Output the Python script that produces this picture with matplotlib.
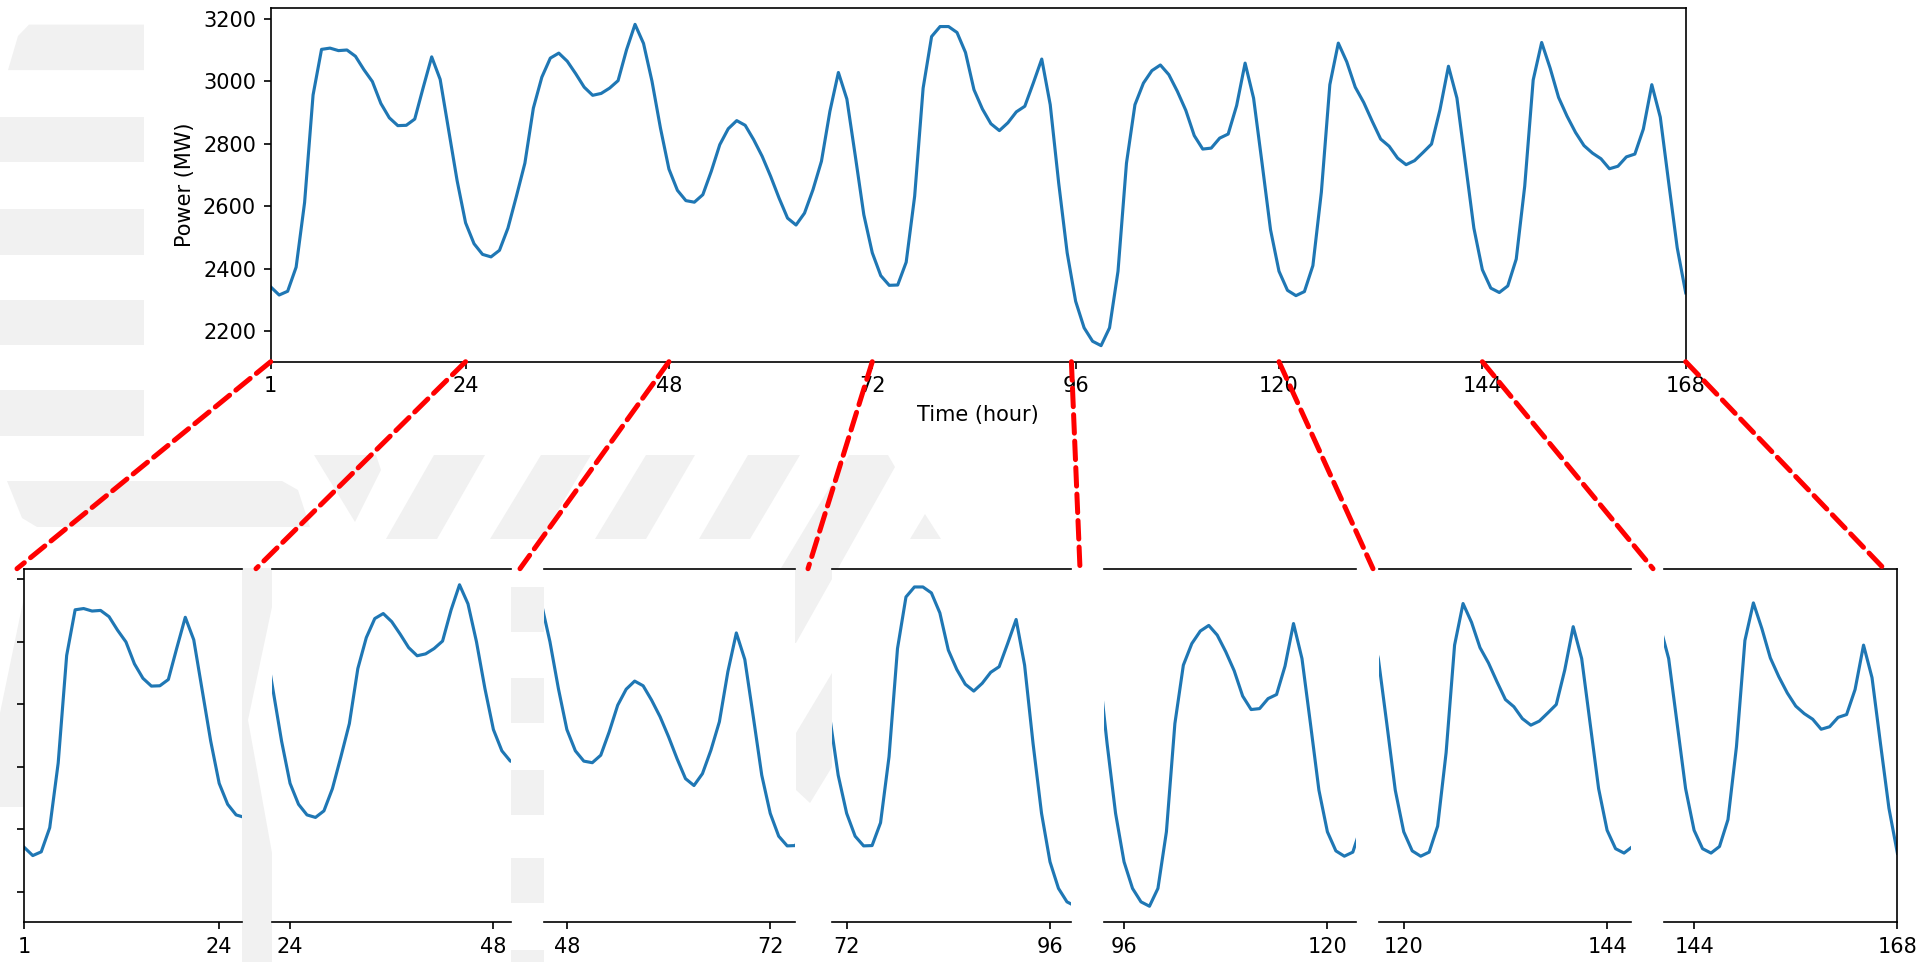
import matplotlib
matplotlib.use("Agg")
import matplotlib.pyplot as plt
from matplotlib.patches import Polygon, ConnectionPatch

# ---------------- data ----------------
hours = list(range(1, 169))
power = [
    2342, 2316, 2328, 2405, 2612, 2956, 3102, 3106, 3098, 3100,
    3080, 3037, 2999, 2929, 2883, 2858, 2859, 2879, 2980, 3078,
    3006, 2845, 2682, 2547, 2480, 2446, 2438, 2459, 2530, 2632,
    2738, 2914, 3013, 3074, 3090, 3064, 3024, 2981, 2955, 2961,
    2978, 3002, 3101, 3182, 3121, 3000, 2850, 2719, 2651, 2618,
    2613, 2637, 2712, 2797, 2848, 2874, 2859, 2813, 2760, 2696,
    2626, 2562, 2540, 2578, 2653, 2744, 2904, 3028, 2943, 2760,
    2573, 2451, 2378, 2347, 2348, 2421, 2632, 2978, 3143, 3175,
    3175, 3156, 3092, 2973, 2911, 2864, 2842, 2867, 2902, 2920,
    2994, 3071, 2925, 2674, 2451, 2296, 2211, 2168, 2154, 2211,
    2392, 2738, 2925, 2994, 3034, 3052, 3021, 2968, 2907, 2826,
    2783, 2786, 2818, 2831, 2922, 3058, 2946, 2738, 2525, 2392,
    2331, 2314, 2327, 2410, 2645, 2989, 3122, 3062, 2981, 2932,
    2872, 2815, 2792, 2754, 2733, 2746, 2772, 2799, 2909, 3048,
    2946, 2738, 2530, 2397, 2338, 2324, 2345, 2431, 2664, 3004,
    3124, 3042, 2948, 2888, 2836, 2794, 2770, 2752, 2720, 2728,
    2758, 2767, 2847, 2989, 2885, 2674, 2467, 2323,
]
top_xticks = [1, 24, 48, 72, 96, 120, 144, 168]
yticks = [2200, 2400, 2600, 2800, 3000, 3200]
window_ticks = [[1, 24], [24, 48], [48, 72], [72, 96], [96, 120], [120, 144], [144, 168]]
window_xlims = [(1, 26.7), (21.87, 50.09), (45.3, 74.98), (70.27, 98.44),
                (93.67, 123.39), (117.08, 146.84), (140.45, 168)]
connector_hours = [1, 24, 48, 72, 95.5, 120, 144, 168]

# ---------------- layout (pixels) ----------------
W, H, DPI = 1929, 962, 150
fig = plt.figure(figsize=(W / DPI, H / DPI), dpi=DPI)
fig.patch.set_facecolor("white")


def fx(px):
    return px / W


def fy(py):
    return 1 - py / H


LINE_C = "#1f77b4"

# ---------------- light watermark shapes (background) ----------------
wm_shapes = [
    [(29, 24.6), (144, 24.6), (144, 70.1), (8, 70.1), (18, 36)],
    [(0, 117), (144, 117), (144, 162.4), (0, 162.4)],
    [(0, 209), (144, 209), (144, 254.7), (0, 254.7)],
    [(0, 300), (144, 300), (144, 345), (0, 345)],
    [(0, 390), (144, 390), (144, 436), (0, 436)],
    [(7, 481), (282, 481), (298, 490), (310, 527), (37, 527), (22, 518)],
    [(314, 455), (376, 455), (381, 470), (355, 522)],
    [(434, 455), (485, 455), (437, 539), (386, 539)],
    [(541, 455), (591, 455), (541, 539), (490, 539)],
    [(646, 455), (695, 455), (646, 539), (595, 539)],
    [(748, 455), (800, 455), (750, 539), (699, 539)],
    [(849, 455), (888, 455), (895, 467), (796, 643), (736, 643)],
    [(925, 514), (941, 539), (910, 539)],
    [(242, 568), (272, 568), (272, 607), (248, 720), (272, 853), (272, 962), (242, 962)],
    [(511, 586.7), (544, 586.7), (544, 631.7), (511, 631.7)],
    [(511, 678), (544, 678), (544, 723), (511, 723)],
    [(511, 770), (544, 770), (544, 815), (511, 815)],
    [(511, 858), (544, 858), (544, 903), (511, 903)],
    [(511, 950), (544, 950), (544, 962), (511, 962)],
    [(832, 673), (832, 767), (810, 803), (796, 790), (796, 733)],
    [(24, 597), (24, 807), (0, 807), (0, 713)],
]
for shp in wm_shapes:
    poly = Polygon([(fx(x), fy(y)) for x, y in shp], closed=True,
                   transform=fig.transFigure, facecolor="#f1f1f1",
                   edgecolor="none", zorder=-5)
    fig.patches.append(poly)

# ---------------- top axes ----------------
top_l, top_r, top_t, top_b = 270.7, 1685.7, 8.3, 361.7
ax_top = fig.add_axes([fx(top_l), fy(top_b), (top_r - top_l) / W, (top_b - top_t) / H])
ax_top.plot(hours, power, color=LINE_C, lw=1.5)
ax_top.set_xlim(hours[0], hours[-1])
ax_top.set_xticks(top_xticks)
ax_top.set_xticklabels([str(t) for t in top_xticks])
ax_top.set_yticks(yticks)
ax_top.set_xlabel("Time (hour)", fontsize=10)
ax_top.set_ylabel("Power (MW)", fontsize=10)
ax_top.tick_params(labelsize=10)
ylim = ax_top.get_ylim()

# ---------------- bottom windows ----------------
px_per_hour = (top_r - top_l) / (hours[-1] - hours[0])
bot_t, bot_b = 568.7, 922.3
left_px = [24.3, 272, 544, 832, 1104.3, 1379, 1664]
n = len(window_xlims)
for i, (xl, tk) in enumerate(zip(window_xlims, window_ticks)):
    wpx = (xl[1] - xl[0]) * px_per_hour
    ax = fig.add_axes([fx(left_px[i]), fy(bot_b), wpx / W, (bot_b - bot_t) / H])
    ax.plot(hours, power, color=LINE_C, lw=1.5)
    ax.set_xlim(*xl)
    ax.set_ylim(*ylim)
    ax.set_xticks(tk)
    ax.set_xticklabels([str(t) for t in tk])
    ax.tick_params(labelsize=10)
    ax.spines["right"].set_visible(i == n - 1)
    if i == 0:
        ax.set_yticks(yticks)
        ax.set_yticklabels([])
    else:
        ax.spines["left"].set_visible(False)
        ax.set_yticks([])

# ---------------- red dashed connectors ----------------
end_px = [17, 256, 520, 808, 1080, 1373, 1653, 1884]
for h, ex in zip(connector_hours, end_px):
    con = ConnectionPatch(xyA=(h, ylim[0]), coordsA=ax_top.transData,
                          xyB=(fx(ex), fy(bot_t)), coordsB=fig.transFigure,
                          color="red", lw=2.4, linestyle="--", zorder=10)
    fig.add_artist(con)

fig.savefig("out.png", dpi=DPI, facecolor="white")
